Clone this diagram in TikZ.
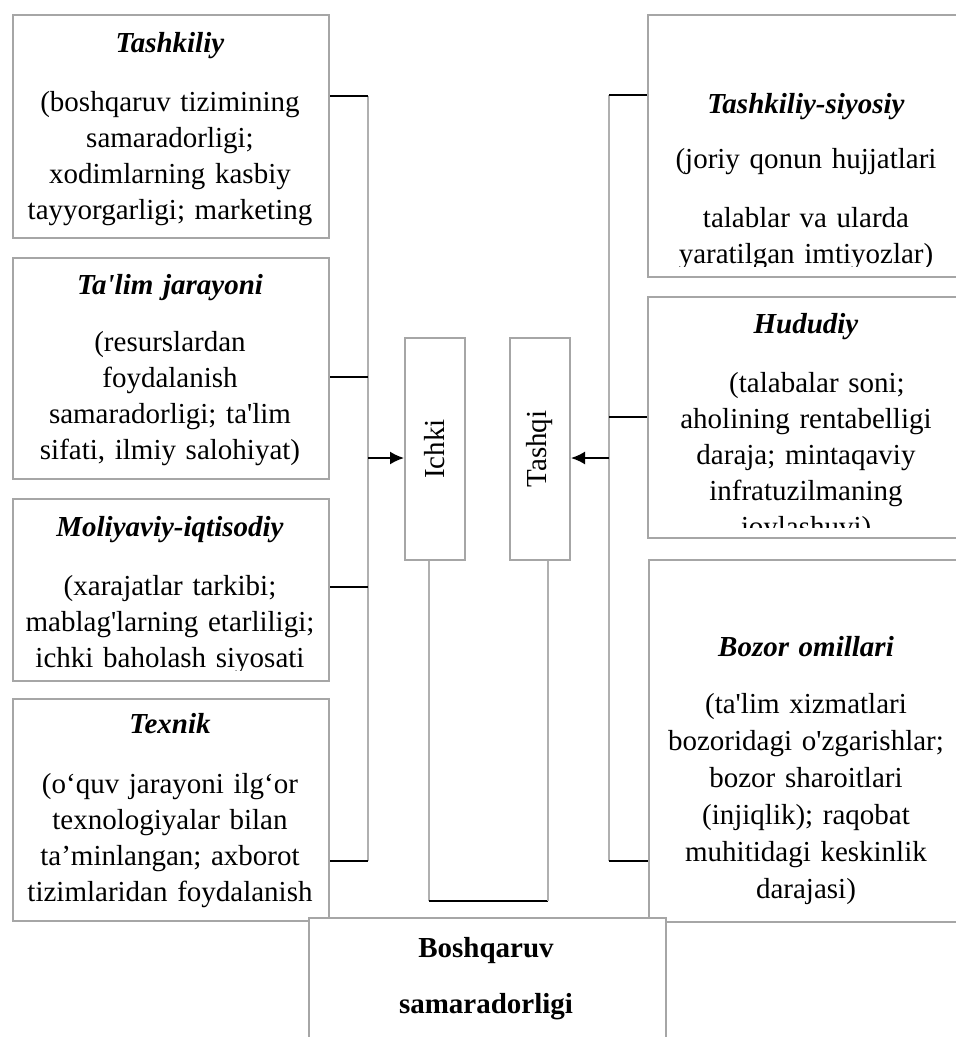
\documentclass[tikz,border=0pt]{standalone}
\usepackage{fontspec}
\setmainfont{Liberation Serif}
\usepackage{graphicx}
\usetikzlibrary{arrows.meta}
\definecolor{boxgray}{RGB}{166,166,166}
\definecolor{linegray}{RGB}{176,176,176}

\begin{document}
\begin{tikzpicture}[x=1pt, y=-1pt,
  box/.style={rectangle, draw=boxgray, line width=2pt, anchor=north west, inner sep=0pt},
  tag/.style={box, minimum width=60pt, minimum height=222pt, font=\fontsize{29}{36}\selectfont},
  txt/.style={anchor=base, align=center, text width=310pt, inner sep=0pt, font=\fontsize{29}{36}\selectfont},
  spine/.style={draw=linegray, line width=1.3pt},
  link/.style={draw=black, line width=1.6pt},
  arrow/.style={draw=black, line width=1.8pt, -{Latex[length=14pt,width=13pt]}}]
\useasboundingbox (0,0) rectangle (956,1037);

\node[box, minimum width=316pt, minimum height=223pt] (tashkiliy) at (12,14) {};
\node[box, minimum width=316pt, minimum height=221pt] (talim) at (12,257) {};
\node[box, minimum width=316pt, minimum height=182pt] (moliya) at (12,498) {};
\node[box, minimum width=316pt, minimum height=222pt] (texnik) at (12,698) {};
\node[box, minimum width=318pt, minimum height=262pt] (siyosiy) at (647,14) {};
\node[box, minimum width=318pt, minimum height=241pt] (hududiy) at (647,296) {};
\node[box, minimum width=317pt, minimum height=362pt] (bozor) at (648,559) {};
\node[tag] (ichki) at (404,337) {\rotatebox{90}{Ichki}};
\node[tag] (tashqi) at (509,337) {\rotatebox{90}{Tashqi}};

\node[txt] (tashkiliytxt) at (170,52) {\textbf{\textit{Tashkiliy}}\\[23pt]
  (boshqaruv tizimining\\ samaradorligi;\\ xodimlarning kasbiy\\ tayyorgarligi; marketing};
\node[txt] (talimtxt) at (170,294) {\textbf{\textit{Ta\textquotesingle{}lim jarayoni}}\\[21pt]
  (resurslardan\\ foydalanish\\ samaradorligi; ta\textquotesingle{}lim\\ sifati, ilmiy salohiyat)};
\begin{scope}
\clip ([yshift=12pt]moliya.south west) rectangle (moliya.north east);
\node[txt] (moliyatxt) at (170,536) {\textbf{\textit{Moliyaviy-iqtisodiy}}\\[23pt]
  (xarajatlar tarkibi;\\ mablag\textquotesingle{}larning etarliligi;\\ ichki baholash siyosati};
\end{scope}
\node[txt] (texniktxt) at (170,733) {\textbf{\textit{Texnik}}\\[24pt]
  (o‘quv jarayoni ilg‘or\\ texnologiyalar bilan\\ ta’minlangan; axborot\\ tizimlaridan foydalanish};
\begin{scope}
\clip ([yshift=12pt]siyosiy.south west) rectangle (siyosiy.north east);
\node[txt] (siyosiytxt) at (806,113) {\textbf{\textit{Tashkiliy-siyosiy}}\\[19pt]
  (joriy qonun hujjatlari\\[23pt] talablar va ularda\\ yaratilgan imtiyozlar)};
\end{scope}
\begin{scope}
\clip ([yshift=12pt]hududiy.south west) rectangle (hududiy.north east);
\node[txt] (hududiytxt) at (806,333) {\textbf{\textit{Hududiy}}\\[23pt]
  \hspace*{22pt}(talabalar soni;\\ aholining rentabelligi\\ daraja; mintaqaviy\\ infratuzilmaning\\ joylashuvi)};
\end{scope}
\node[txt, font=\fontsize{29}{37}\selectfont] (bozortxt) at (806,656) {\textbf{\textit{Bozor omillari}}\\[20pt]
  (ta\textquotesingle{}lim xizmatlari\\ bozoridagi o\textquotesingle{}zgarishlar;\\ bozor sharoitlari\\ (injiqlik); raqobat\\ muhitidagi keskinlik\\ darajasi)};

\coordinate (l1) at (368,96);
\coordinate (l2) at (368,377);
\coordinate (l3) at (368,587);
\coordinate (l4) at (368,861);
\coordinate (larr) at (368,458);
\coordinate (r1) at (609,95);
\coordinate (r2) at (609,417);
\coordinate (r3) at (609,861);
\coordinate (rarr) at (609,458);
\coordinate (b1) at (429,901);
\coordinate (b2) at (548,901);

\draw[spine] (l1) -- (l4);
\draw[link] (tashkiliy.east |- l1) -- (l1);
\draw[link] (talim.east |- l2) -- (l2);
\draw[link] (moliya.east |- l3) -- (l3);
\draw[link] (texnik.east |- l4) -- (l4);
\draw[arrow] (larr) -- (ichki.west |- larr);

\draw[spine] (r1) -- (r3);
\draw[link] (r1) -- (siyosiy.west |- r1);
\draw[link] (r2) -- (hududiy.west |- r2);
\draw[link] (r3) -- (bozor.west |- r3);
\draw[arrow] (rarr) -- (tashqi.east |- rarr);

\draw[spine] (ichki.south -| b1) -- (b1);
\draw[link] (b1) -- (b2);
\draw[spine] (b2) -- (tashqi.south -| b2);

\node[box, fill=white, minimum width=357pt, minimum height=150pt] (natija) at (308,917) {};
\node[txt, font=\fontsize{29}{36}\selectfont\bfseries] (natijatxt) at (486,957) {Boshqaruv\\[20pt] samaradorligi};
\end{tikzpicture}
\end{document}
